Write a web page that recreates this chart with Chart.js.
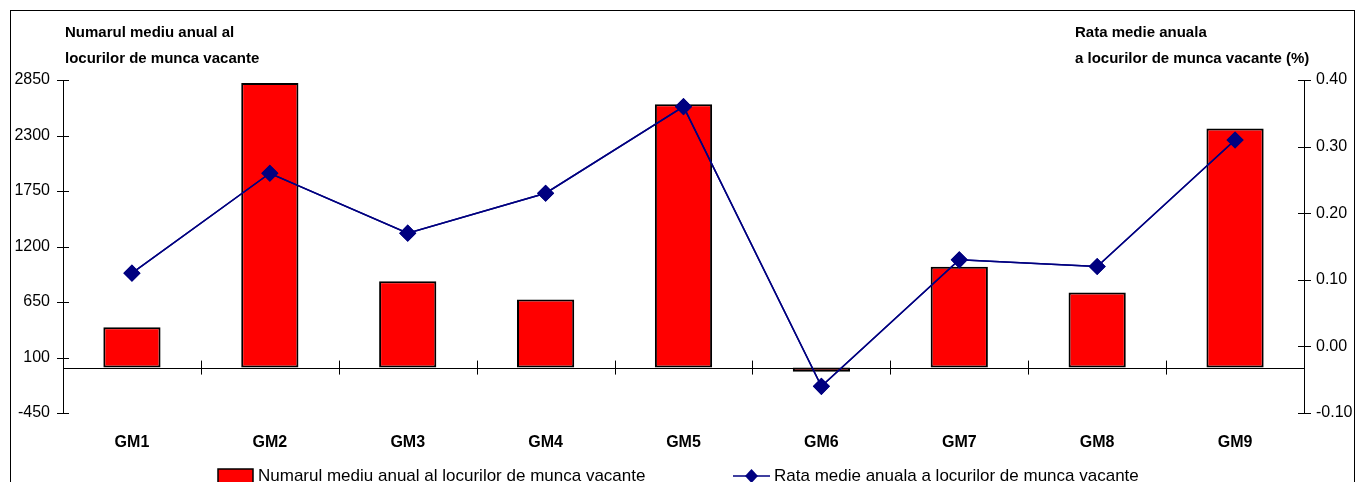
<!DOCTYPE html>
<html>
<head>
<meta charset="utf-8">
<script src="https://cdn.jsdelivr.net/npm/chart.js@4"></script>
<style>
    html, body { margin: 0; padding: 0; background: #fff; overflow: hidden; }
    #wrap { position: relative; width: 1357px; height: 482px; }
    #frame { position: absolute; left: 10px; top: 10px; width: 1343px; height: 520px; border: 1.5px solid #000; }
    canvas { position: absolute; left: 0; top: 0; }
</style>
</head>
<body>
<div id="wrap">
    <div id="frame"></div>
    <canvas id="chart" width="1357" height="482"></canvas>
</div>
<script>
// Donnees
const categories = ['GM1', 'GM2', 'GM3', 'GM4', 'GM5', 'GM6', 'GM7', 'GM8', 'GM9'];
const locuriVacante = [400, 2820, 855, 675, 2610, -40, 1000, 745, 2370];
const rataVacante = [0.11, 0.26, 0.17, 0.23, 0.36, -0.06, 0.13, 0.12, 0.31];

const labelBare = 'Numarul mediu anual al locurilor de munca vacante';
const labelLinie = 'Rata medie anuala a locurilor de munca vacante';
const titluStanga = ['Numarul mediu anual al', 'locurilor de munca vacante'];
const titluDreapta = ['Rata medie anuala', 'a locurilor de munca vacante (%)'];

const FONT = "'Liberation Sans', Arial, sans-serif";

// ==================== PLUGIN DECOR ====================

const decorPlugin = {
    id: 'decor',
    beforeDatasetsDraw(chart) {
        const ctx = chart.ctx;
        const area = chart.chartArea;
        const x = chart.scales.x;
        const yL = chart.scales.y;
        const yR = chart.scales.y1;
        const y0 = yL.getPixelForValue(0);

        ctx.save();
        ctx.strokeStyle = '#000';
        ctx.lineWidth = 1;

        // axe vertical gauche
        ctx.beginPath();
        ctx.moveTo(area.left + 0.5, area.top);
        ctx.lineTo(area.left + 0.5, area.bottom + 1);
        ctx.stroke();

        // axe vertical droit
        ctx.beginPath();
        ctx.moveTo(area.right + 0.5, area.top);
        ctx.lineTo(area.right + 0.5, area.bottom + 1);
        ctx.stroke();

        // petites graduations
        yL.ticks.forEach((t, i) => {
            const py = Math.round(yL.getPixelForTick(i)) + 0.5;
            ctx.beginPath();
            ctx.moveTo(area.left - 6, py);
            ctx.lineTo(area.left + 6, py);
            ctx.stroke();
        });
        yR.ticks.forEach((t, i) => {
            const py = Math.round(yR.getPixelForTick(i)) + 0.5;
            ctx.beginPath();
            ctx.moveTo(area.right - 6, py);
            ctx.lineTo(area.right + 7, py);
            ctx.stroke();
        });
        const step = x.getPixelForValue(1) - x.getPixelForValue(0);
        for (let i = 1; i < categories.length; i++) {
            const px = Math.round(x.getPixelForValue(i) - step / 2) + 0.5;
            ctx.beginPath();
            ctx.moveTo(px, y0 - 7);
            ctx.lineTo(px, y0 + 7);
            ctx.stroke();
        }
        ctx.restore();
    },
    afterDatasetsDraw(chart) {
        const ctx = chart.ctx;
        const area = chart.chartArea;
        const y0 = Math.round(chart.scales.y.getPixelForValue(0)) + 0.5;

        // ligne du zero
        ctx.save();
        ctx.strokeStyle = '#000';
        ctx.lineWidth = 1.2;
        ctx.beginPath();
        ctx.moveTo(area.left, y0);
        ctx.lineTo(area.right, y0);
        ctx.stroke();
        ctx.restore();

        // redessiner la ligne par dessus l'axe
        chart.getDatasetMeta(1).controller.draw();
    },
    afterDraw(chart) {
        const ctx = chart.ctx;
        ctx.save();
        ctx.fillStyle = '#000';
        ctx.textBaseline = 'alphabetic';

        // titres des axes
        ctx.font = 'bold 15px ' + FONT;
        ctx.textAlign = 'left';
        ctx.fillText(titluStanga[0], 65, 37);
        ctx.fillText(titluStanga[1], 65, 63);
        ctx.fillText(titluDreapta[0], 1075, 37);
        ctx.fillText(titluDreapta[1], 1075, 63);

        // legende
        const ds = chart.data.datasets;
        const ly = 476;
        ctx.font = '17px ' + FONT;
        ctx.fillStyle = ds[0].backgroundColor;
        ctx.fillRect(218, ly - 7, 35, 16);
        ctx.strokeStyle = '#000';
        ctx.lineWidth = 1.5;
        ctx.strokeRect(218, ly - 7, 35, 16);
        ctx.fillStyle = '#000';
        ctx.textBaseline = 'middle';
        ctx.fillText(ds[0].label, 258, ly);

        ctx.strokeStyle = ds[1].borderColor;
        ctx.lineWidth = 1.5;
        ctx.beginPath();
        ctx.moveTo(733, ly);
        ctx.lineTo(770, ly);
        ctx.stroke();
        ctx.fillStyle = ds[1].pointBackgroundColor;
        ctx.beginPath();
        ctx.moveTo(751.5, ly - 7);
        ctx.lineTo(758, ly);
        ctx.lineTo(751.5, ly + 7);
        ctx.lineTo(745, ly);
        ctx.closePath();
        ctx.fill();
        ctx.fillStyle = '#000';
        ctx.fillText(ds[1].label, 774, ly);
        ctx.restore();
    }
};

// ==================== GRAPHIQUE ====================

const ctxChart = document.getElementById('chart').getContext('2d');
const chart = new Chart(ctxChart, {
    data: {
        labels: categories,
        datasets: [{
            type: 'bar',
            label: labelBare,
            data: locuriVacante,
            backgroundColor: '#FF0000',
            borderColor: '#000',
            borderWidth: 2,
            borderSkipped: false,
            barPercentage: 0.415,
            categoryPercentage: 1,
            yAxisID: 'y',
            order: 2
        }, {
            type: 'line',
            label: labelLinie,
            data: rataVacante,
            borderColor: '#000080',
            backgroundColor: '#000080',
            pointBackgroundColor: '#000080',
            pointBorderColor: '#000080',
            borderWidth: 1.5,
            pointStyle: 'rectRot',
            pointRadius: 7.5,
            tension: 0,
            yAxisID: 'y1',
            order: 1
        }]
    },
    options: {
        responsive: false,
        animation: false,
        layout: { padding: { top: 80, left: 0, right: 0, bottom: 0 } },
        plugins: {
            legend: { display: false },
            tooltip: { enabled: false }
        },
        scales: {
            x: {
                grid: { display: false, drawTicks: false, tickLength: 0 },
                border: { display: false },
                ticks: {
                    color: '#000',
                    padding: 20,
                    font: { family: FONT, size: 16, weight: 'bold' }
                },
                afterFit: (s) => { s.height = 69; }
            },
            y: {
                position: 'left',
                min: -450,
                max: 2850,
                grid: { display: false, drawTicks: false, tickLength: 0 },
                border: { display: false },
                ticks: {
                    stepSize: 550,
                    color: '#000',
                    padding: 13,
                    font: { family: FONT, size: 16 },
                    callback: (v) => String(v)
                },
                afterFit: (s) => { s.width = 63; }
            },
            y1: {
                position: 'right',
                min: -0.1,
                max: 0.4,
                grid: { display: false, drawTicks: false, tickLength: 0 },
                border: { display: false },
                ticks: {
                    stepSize: 0.1,
                    color: '#000',
                    padding: 12,
                    font: { family: FONT, size: 16 },
                    callback: (v) => v.toFixed(2)
                },
                afterFit: (s) => { s.width = 53; }
            }
        }
    },
    plugins: [decorPlugin]
});
</script>
</body>
</html>
